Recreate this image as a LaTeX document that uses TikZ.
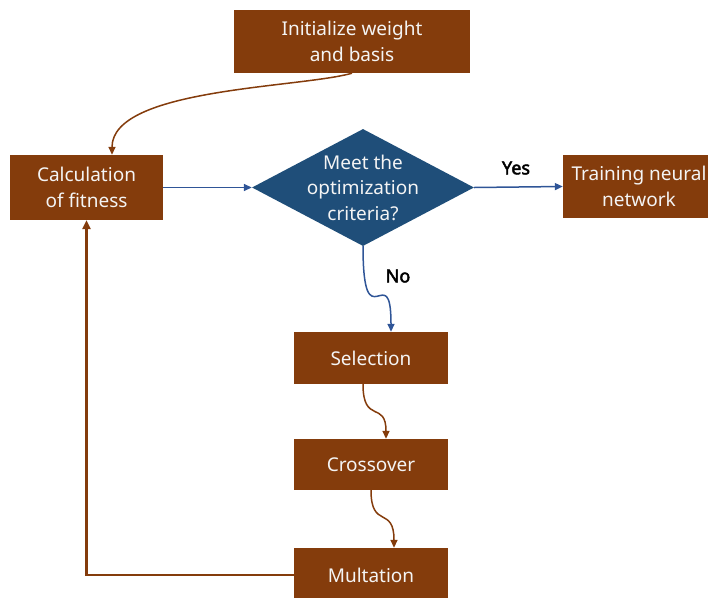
\documentclass[tikz,border=0pt]{standalone}
\usepackage{fontspec}
\setmainfont{Noto Sans}
\newfontfamily\labelfont{Noto Sans}[AutoFakeBold=2.5]
\usetikzlibrary{shapes.geometric,arrows.meta}
\definecolor{rust}{HTML}{843C0C}
\definecolor{navy}{HTML}{1F4E79}
\definecolor{linkblue}{HTML}{2F5597}
\definecolor{paper}{HTML}{F4F4F4}
\begin{document}
\begin{tikzpicture}[x=1pt,y=-1pt,
  boxtxt/.style={text=paper,font=\fontsize{19}{25.5}\selectfont,align=center},
  stepbox/.style={boxtxt,fill=rust,inner sep=0pt},
  decision/.style={diamond,fill=navy,inner sep=0pt},
  rustarrow/.style={draw=rust,line width=1.5pt,-{Triangle[length=8pt,width=7pt]}},
  bluearrow/.style={draw=linkblue,line width=1.5pt,-{Triangle[length=8pt,width=7pt]}},
  answer/.style={font=\labelfont\fontsize{18}{20}\selectfont\bfseries,text=black}]
\useasboundingbox (0,0) rectangle (708,597);

% process boxes
\node[stepbox,minimum width=236,minimum height=63] (init) at (352,41.5) {Initialize weight\\and basis};
\node[stepbox,minimum width=153,minimum height=65] (calc) at (86.5,187.5) {Calculation\\of fitness};
\node[stepbox,minimum width=152,minimum height=63] (train) at (639,186.5) {Training neural\\network};
\node[stepbox,minimum width=154,minimum height=52] (sel) at (371,358) {Selection};
\node[stepbox,minimum width=154,minimum height=51] (cross) at (371,464.5) {Crossover};
\node[stepbox,minimum width=154,minimum height=54] (mult) at (371,575) {Multation};

% decision
\node[decision,minimum width=222,minimum height=117] (dia) at (363,187.5) {};
\node[boxtxt] (diatxt) at (dia.center) {Meet the\\optimization\\criteria?};

% connectors
\draw[rustarrow] (init.south) .. controls (300,88) and (112,88) .. ([xshift=25.5pt]calc.north);
\draw[bluearrow] (calc.east) -- (dia.west);
\draw[bluearrow] (dia.east) -- (train.west);
\draw[bluearrow] (dia.south) .. controls (363,345) and (391,255) .. ([xshift=20pt]sel.north);
\draw[rustarrow] ([xshift=-8pt]sel.south) .. controls (363,425) and (386,400) .. ([xshift=15pt]cross.north);
\draw[rustarrow] (cross.south) .. controls (371,530) and (394,505) .. ([xshift=23pt]mult.north);
\draw[draw=rust,line width=2.2pt,-{Triangle[length=9pt,width=8pt]}] (mult.west) -| (calc.south);

% branch labels
\node[answer] (yes) at (516,168) {Yes};
\node[answer] (no) at (398,276) {No};
\end{tikzpicture}
\end{document}
